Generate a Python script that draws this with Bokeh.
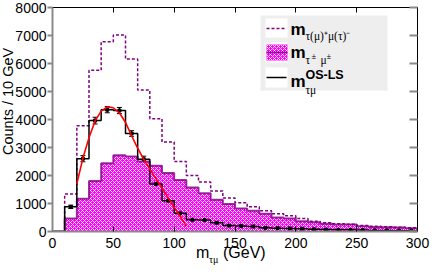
import math
from bokeh.plotting import figure
from bokeh.models import (LinearAxis, Range1d, Whisker, TeeHead, GridBox, Div,
                          ColumnDataSource, FixedTicker, CustomJSTickFormatter)
from bokeh.core.properties import value
from bokeh.embed import file_html
from bokeh.resources import INLINE

# ---------------- data ----------------
bin_lo = list(range(0, 300, 10))          # 10 GeV bins, 0..300
x_ticks = [0, 50, 100, 150, 200, 250, 300]
y_ticks = [0, 1000, 2000, 3000, 4000, 5000, 6000, 7000, 8000]

os_counts = [0, 1340, 3780, 5760, 6780, 7020, 6160, 5050, 4030, 3200,
             2500, 2000, 1770, 1450, 1200, 1030, 880, 740, 630, 560,
             460, 370, 310, 280, 260, 210, 190, 170, 150, 130]
ls_counts = [0, 460, 1170, 1800, 2440, 2720, 2680, 2500, 2350, 2090,
             1840, 1570, 1370, 1130, 980, 820, 740, 630, 500, 460,
             370, 330, 280, 250, 250, 190, 160, 150, 140, 120]
osls_counts = [0, 880, 2600, 3960, 4350, 4320, 3500, 2580, 1700, 1100,
               650, 420, 410, 310, 210, 200, 180, 130, 120, 110,
               100, 80, 70, 60, 60, 50, 40, 40, 30, 30]
osls_err = [0, 60, 110, 120, 110, 110, 100, 110, 100, 90,
            80, 70, 60, 60, 55, 50, 50, 45, 40, 40,
            35, 35, 30, 30, 30, 25, 25, 25, 20, 20]

fit_x = [20, 25, 30, 35, 40, 45, 50, 55, 60, 65, 70, 75, 80, 85, 90, 95, 100, 105, 110]
fit_y = [1700, 2620, 3350, 3950, 4300, 4450, 4420, 4230, 3900, 3420,
         2980, 2580, 2230, 1890, 1550, 1210, 870, 530, 190]

# ---------------- helpers ----------------
BIN_W = 10
step_x = bin_lo + [bin_lo[-1] + BIN_W]
def closed(v):
    return list(v) + [v[-1]]
centers = [b + BIN_W / 2 for b in bin_lo]

W, H = 436, 272
FL, FR, FT, FB = 52, 417, 7, 231          # frame edges on the page
SANS = "Liberation Sans"
SERIF = "Liberation Serif"
PURPLE = "#800080"
MAGENTA = "#ff00ff"
GREY = "#8a8a8a"

p = figure(width=W, height=H, x_range=Range1d(0, 300), y_range=Range1d(0, 8000),
           output_backend="svg", toolbar_location=None,
           min_border_left=FL, min_border_right=W - FR, min_border_top=FT,
           min_border_bottom=H - FB,
           background_fill_color="white", border_fill_color="white")
p.xgrid.visible = False
p.ygrid.visible = False
p.outline_line_color = "black"
p.outline_line_width = 1

xa = p.xaxis[0]
xa.ticker = FixedTicker(ticks=x_ticks)
xa.major_tick_in = 5
xa.major_tick_out = 0
xa.minor_tick_in = 0
xa.minor_tick_out = 0
xa.major_tick_line_color = "black"
xa.axis_line_color = GREY
xa.axis_line_width = 2
xa.major_label_text_font = SANS
xa.major_label_text_font_size = "14px"
xa.major_label_text_color = "black"
xa.major_label_standoff = 6

ya = p.yaxis[0]
ya.ticker = FixedTicker(ticks=y_ticks)
ya.major_tick_in = 0
ya.major_tick_out = 5
ya.minor_tick_in = 0
ya.minor_tick_out = 0
ya.major_tick_line_color = GREY
ya.major_tick_line_width = 2
ya.axis_line_color = GREY
ya.axis_line_width = 2
ya.major_label_text_font = SANS
ya.major_label_text_font_size = "14px"
ya.major_label_text_color = "black"
ya.major_label_standoff = 1

empty_fmt = CustomJSTickFormatter(code="return ''")
top = LinearAxis(ticker=FixedTicker(ticks=x_ticks), formatter=empty_fmt,
                 major_tick_in=5, major_tick_out=0, minor_tick_in=0, minor_tick_out=0,
                 major_label_text_font_size="0px", major_label_standoff=0,
                 axis_line_color="black", major_tick_line_color="black")
right = LinearAxis(ticker=FixedTicker(ticks=y_ticks), formatter=empty_fmt,
                   major_tick_in=8, major_tick_out=0, minor_tick_in=0, minor_tick_out=0,
                   major_label_text_font_size="0px", major_label_standoff=0,
                   axis_line_color="black", major_tick_line_color=GREY,
                   major_tick_line_width=2)
p.add_layout(top, "above")
p.add_layout(right, "right")

# ---------------- histograms ----------------
HATCH = dict(hatch_pattern="diagonal_cross", hatch_color="white",
             hatch_scale=4, hatch_weight=1, hatch_alpha=0.85)
p.varea_step(x=step_x, y1=[0] * len(step_x), y2=closed(ls_counts), step_mode="after",
             fill_color=MAGENTA, **HATCH)
p.step(x=step_x, y=closed(ls_counts), mode="after", line_color=PURPLE, line_width=2, line_alpha=0.8)
p.step(x=step_x, y=closed(os_counts), mode="after", line_color=PURPLE, line_width=1.5,
       line_dash="3 2")
p.step(x=step_x, y=closed(osls_counts), mode="after", line_color="black", line_width=1.5)

err_src = ColumnDataSource(dict(
    x=centers[1:],
    upper=[v + e for v, e in zip(osls_counts[1:], osls_err[1:])],
    lower=[v - e for v, e in zip(osls_counts[1:], osls_err[1:])],
    y=osls_counts[1:]))
p.add_layout(Whisker(base="x", upper="upper", lower="lower", source=err_src,
                     line_color="black", line_width=1,
                     upper_head=TeeHead(size=5, line_color="black", line_width=1),
                     lower_head=TeeHead(size=5, line_color="black", line_width=1)))
p.scatter(x="x", y="y", source=err_src, marker="square", size=3, color="black")

p.line(fit_x, fit_y, line_color="red", line_width=1.6)

# ---------------- overlay (same frame as p, coordinates = page pixels) for the legend ----------------
q = figure(width=W, height=H, x_range=Range1d(FL, FR), y_range=Range1d(H - FB, H - FT),
           output_backend="svg", toolbar_location=None,
           x_axis_type=None, y_axis_type=None,
           min_border_left=FL, min_border_right=W - FR, min_border_top=FT,
           min_border_bottom=H - FB,
           background_fill_alpha=0, border_fill_alpha=0)
q.outline_line_color = None
for g in q.grid:
    g.visible = False

def Y(py):
    return H - py

q.quad(left=[260], right=[387], top=[Y(15)], bottom=[Y(90)], fill_color="#eeeeee", line_color=None)
q.quad(left=[265, 265, 265], right=[287, 287, 287], top=[Y(18), Y(42), Y(67)],
       bottom=[Y(37), Y(62), Y(87)], fill_color="white", line_color=None)
q.segment(x0=[266], y0=[Y(28)], x1=[286], y1=[Y(28)], line_color=PURPLE, line_width=1.5,
          line_dash="3 2")
q.quad(left=[266], right=[287], top=[Y(44)], bottom=[Y(60)], fill_color=MAGENTA,
       line_color=None, **HATCH)
q.segment(x0=[266], y0=[Y(52)], x1=[287], y1=[Y(52)], line_color=PURPLE, line_width=2,
          line_alpha=0.8)
q.segment(x0=[266], y0=[Y(77)], x1=[286], y1=[Y(77)], line_color="black", line_width=1.5)

def lab(text, px, py, size, font=SANS, style="normal"):
    q.text(x=[px], y=[Y(py)], text=[text], text_font=value(font), text_font_size=value(size),
           text_font_style=style, text_baseline="alphabetic", text_align="left",
           text_color="black")

lab("m", 290, 29, "17px", style="bold")
lab("τ(μ)⁺μ(τ)⁻", 305, 35, "11.5px", font=SERIF)
lab("m", 290, 52, "17px", style="bold")
lab("τ", 305, 59, "11.5px", font=SERIF)
lab("±", 311, 55, "8.5px", font=SERIF)
lab("μ", 320, 59, "11.5px", font=SERIF)
lab("±", 326, 55, "8.5px", font=SERIF)
lab("m", 290, 81, "17px", style="bold")
lab("OS-LS", 305, 74, "12.5px", style="bold")
lab("τμ", 305, 89, "11.5px", font=SERIF)

# ---------------- axis titles (HTML text placed on the page) ----------------
def span(text, left, top, size, font, extra=""):
    return (f'<span style="position:absolute;left:{left}px;top:{top}px;font-family:\'{font}\';'
            f'font-size:{size}px;line-height:1;white-space:nowrap;color:black;{extra}">{text}</span>')

titles = (
    '<div style="position:relative;width:436px;height:272px;pointer-events:none;">'
    + span("m", 196, 244.5, 16, SANS)
    + span("τμ", 209, 254.6, 10, SERIF)
    + span("(GeV)", 223, 244.5, 16, SANS)
    + span("Counts / 10 GeV", 0.7, 155, 14.5, SANS,
           "transform-origin:0 0;transform:rotate(-90deg);")
    + '</div>'
)
div = Div(text=titles, width=W, height=H, margin=0)

layout = GridBox(children=[(p, 0, 0), (q, 0, 0), (div, 0, 0)])
open("out.html", "w").write(file_html(layout, INLINE))
